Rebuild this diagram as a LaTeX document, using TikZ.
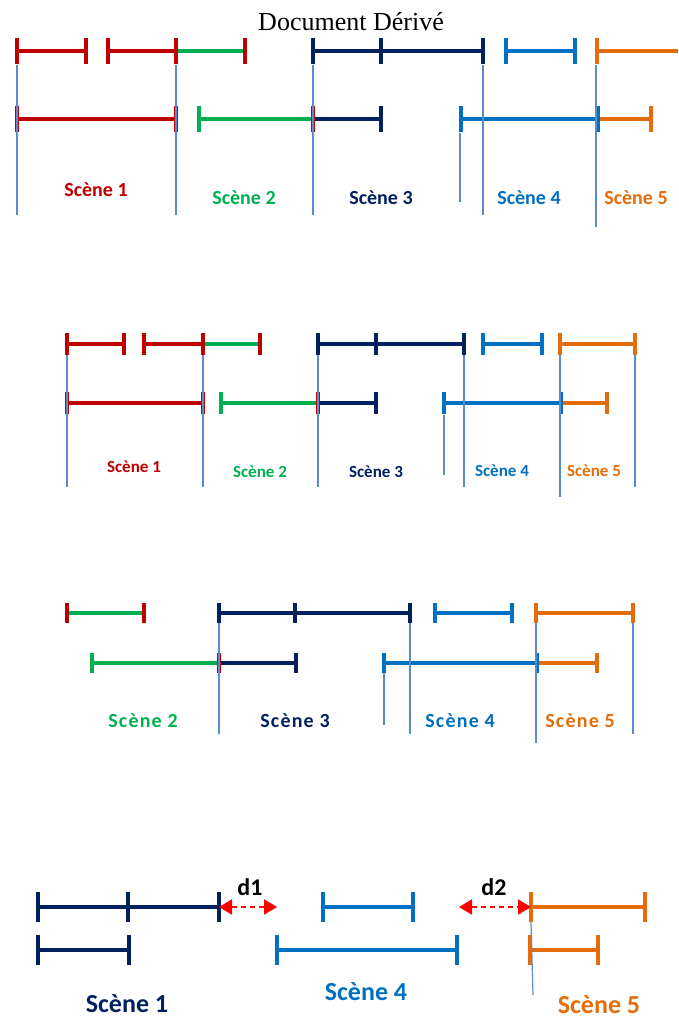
\documentclass[tikz,border=0pt]{standalone}
\usepackage{fontspec}
\setmainfont{Liberation Serif}
\newfontfamily\scenefont{Carlito}
\usetikzlibrary{arrows.meta}

\definecolor{scred}{HTML}{C00000}
\definecolor{scgreen}{HTML}{00B050}
\definecolor{scnavy}{HTML}{002060}
\definecolor{scblue}{HTML}{0070C0}
\definecolor{scorange}{HTML}{E46C0A}
\definecolor{guideblue}{HTML}{5B8BD0}
\definecolor{gapred}{HTML}{FF0000}

\tikzset{
	bar/.style={line width=3.6pt},
	tick/.style={line width=3.6pt},
	guide/.style={guideblue, line width=1.2pt},
	scene/.style={inner sep=0pt, font=\scenefont\bfseries\fontsize{20}{20}\selectfont},
	gap/.style={gapred, line width=1.8pt, dash pattern=on 5pt off 4pt,
		{Triangle[length=13pt,width=15pt]}-{Triangle[length=13pt,width=15pt]}},
	dlab/.style={font=\scenefont\bfseries\fontsize{24}{24}\selectfont}
}

% segment: colour, x1, x2, y
\newcommand{\seg}[4]{\draw[bar,#1] (#2,#4) -- (#3,#4);}
% tick: colour, x, y, half height
\newcommand{\tk}[4]{\draw[tick,#1] (#2,#3-#4) -- (#2,#3+#4);}
% guide: x, y1, y2
\newcommand{\vl}[3]{\draw[guide] (#1,#2) -- (#1,#3);}

\begin{document}
\begin{tikzpicture}[x=1pt,y=-1pt]
	\useasboundingbox (0,0) rectangle (678,1019);
	\node (title) at (351,22) {\fontsize{26}{26}\selectfont Document Dérivé};

	% panel 1
	\seg{scred}{17}{86}{51} \seg{scred}{108}{176}{51} \seg{scgreen}{176}{245}{51}
	\seg{scnavy}{313}{483}{51} \seg{scblue}{506}{575}{51} \seg{scorange}{597}{678}{51}
	\foreach \x in {17,86,108,176,245} \tk{scred}{\x}{51}{13};
	\foreach \x in {313,381,483} \tk{scnavy}{\x}{51}{13};
	\foreach \x in {506,575} \tk{scblue}{\x}{51}{13};
	\tk{scorange}{597}{51}{13}
	\seg{scred}{17}{176}{119} \seg{scgreen}{199}{313}{119} \seg{scnavy}{313}{381}{119}
	\seg{scblue}{461}{598}{119} \seg{scorange}{598}{651}{119}
	\foreach \x in {17,176,313} \tk{scred}{\x}{119}{13};
	\tk{scgreen}{199}{119}{13} \tk{scnavy}{381}{119}{13}
	\foreach \x in {461,598} \tk{scblue}{\x}{119}{13};
	\tk{scorange}{651}{119}{13}
	\foreach \x in {17,176,313,483} \vl{\x}{65}{215};
	\vl{460}{133}{202} \vl{596}{65}{227}
	\node[scene, scred] (p1s1) at (96,190) {Scène 1};
	\node[scene, scgreen] (p1s2) at (244,198) {Scène 2};
	\node[scene, scnavy] (p1s3) at (381,198) {Scène 3};
	\node[scene, scblue] (p1s4) at (529,198) {Scène 4};
	\node[scene, scorange] (p1s5) at (636,198) {Scène 5};

	% panel 2
	\seg{scred}{67}{124}{344} \seg{scred}{144}{203}{344} \seg{scgreen}{203}{260}{344}
	\seg{scnavy}{318}{464}{344} \seg{scblue}{483}{542}{344} \seg{scorange}{560}{635}{344}
	\foreach \x in {67,124,144,203,260} \tk{scred}{\x}{344}{11};
	\foreach \x in {318,376,464} \tk{scnavy}{\x}{344}{11};
	\foreach \x in {483,542} \tk{scblue}{\x}{344}{11};
	\foreach \x in {560,635} \tk{scorange}{\x}{344}{11};
	\seg{scred}{67}{203}{403} \seg{scgreen}{221}{318}{403} \seg{scnavy}{318}{376}{403}
	\seg{scblue}{444}{561}{403} \seg{scorange}{561}{607}{403}
	\foreach \x in {67,203,318} \tk{scred}{\x}{403}{11};
	\tk{scgreen}{221}{403}{11} \tk{scnavy}{376}{403}{11}
	\foreach \x in {444,561} \tk{scblue}{\x}{403}{11};
	\tk{scorange}{607}{403}{11}
	\foreach \x in {67,203,318,464,635} \vl{\x}{355}{487};
	\vl{444}{415}{475} \vl{560}{355}{497}
	\begin{scope}[scene/.append style={font=\scenefont\bfseries\fontsize{17}{17}\selectfont}]
		\node[scene, scred] (p2s1) at (134,467) {Scène 1};
		\node[scene, scgreen] (p2s2) at (260,472) {Scène 2};
		\node[scene, scnavy] (p2s3) at (376,472) {Scène 3};
		\node[scene, scblue] (p2s4) at (502,471) {Scène 4};
		\node[scene, scorange] (p2s5) at (594,471) {Scène 5};
	\end{scope}

	% panel 3
	\seg{scgreen}{67}{144}{613} \seg{scnavy}{219}{410}{613}
	\seg{scblue}{435}{512}{613} \seg{scorange}{536}{633}{613}
	\foreach \x in {67,144} \tk{scred}{\x}{613}{10};
	\foreach \x in {219,295,410} \tk{scnavy}{\x}{613}{10};
	\foreach \x in {435,512} \tk{scblue}{\x}{613}{10};
	\foreach \x in {536,633} \tk{scorange}{\x}{613}{10};
	\seg{scgreen}{92}{219}{663} \seg{scnavy}{219}{296}{663}
	\seg{scblue}{384}{537}{663} \seg{scorange}{537}{597}{663}
	\tk{scgreen}{92}{663}{10} \tk{scred}{219}{663}{10} \tk{scnavy}{296}{663}{10}
	\foreach \x in {384,537} \tk{scblue}{\x}{663}{10};
	\tk{scorange}{597}{663}{10}
	\foreach \x in {219,410,633} \vl{\x}{623}{734};
	\vl{384}{673}{725} \vl{536}{623}{743}
	\begin{scope}[scene/.append style={font=\scenefont\bfseries\fontsize{20}{20}\selectfont\addfontfeature{LetterSpace=6}}]
		\node[scene, scgreen] (p3s2) at (143,721) {Scène 2};
		\node[scene, scnavy] (p3s3) at (295,721) {Scène 3};
		\node[scene, scblue] (p3s4) at (460,721) {Scène 4};
		\node[scene, scorange] (p3s5) at (580,721) {Scène 5};
	\end{scope}

	% panel 4
	\begin{scope}[bar/.append style={line width=4.4pt}, tick/.append style={line width=4.2pt}]
		\seg{scnavy}{38}{219}{907} \seg{scblue}{323}{413}{907} \seg{scorange}{531}{645}{907}
		\foreach \x in {38,128,219} \tk{scnavy}{\x}{907}{15};
		\foreach \x in {323,413} \tk{scblue}{\x}{907}{15};
		\foreach \x in {531,645} \tk{scorange}{\x}{907}{15};
		\seg{scnavy}{38}{129}{950} \seg{scblue}{277}{457}{950} \seg{scorange}{530}{598}{950}
		\foreach \x in {38,129} \tk{scnavy}{\x}{950}{15};
		\foreach \x in {277,457} \tk{scblue}{\x}{950}{15};
		\foreach \x in {530,598} \tk{scorange}{\x}{950}{15};
	\end{scope}
	\draw[guide] (531,922) -- (533,995);
	\coordinate (d1a) at (219,907);
	\coordinate (d1b) at (277,907);
	\coordinate (d2a) at (459,907);
	\coordinate (d2b) at (531,907);
	\draw[gap] (d1a) -- (d1b);
	\draw[gap] (d2a) -- (d2b);
	\node[dlab] (d1) at (250,887) {d1};
	\node[dlab] (d2) at (494,887) {d2};
	\begin{scope}[scene/.append style={font=\scenefont\bfseries\fontsize{26}{26}\selectfont}]
		\node[scene, scnavy] (p4s1) at (127,1004) {Scène 1};
		\node[scene, scblue] (p4s4) at (366,992) {Scène 4};
		\node[scene, scorange] (p4s5) at (599,1005) {Scène 5};
	\end{scope}
\end{tikzpicture}
\end{document}
